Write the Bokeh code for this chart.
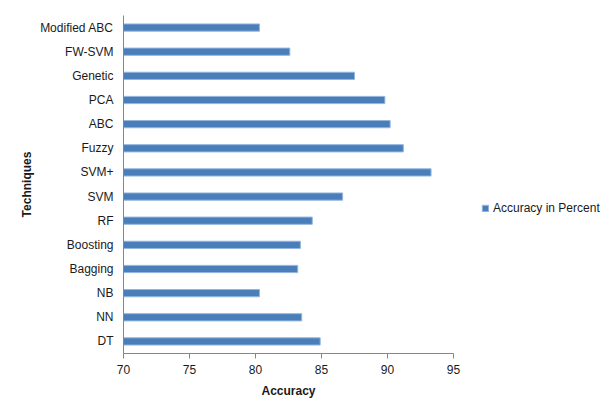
from bokeh.plotting import figure
from bokeh.models import Range1d, FactorRange, SingleIntervalTicker, Legend, LegendItem
from bokeh.embed import file_html
from bokeh.resources import INLINE

techniques = ["DT", "NN", "NB", "Bagging", "Boosting", "RF", "SVM", "SVM+",
              "Fuzzy", "ABC", "PCA", "Genetic", "FW-SVM", "Modified ABC"]
accuracy = [84.9, 83.5, 80.3, 83.2, 83.4, 84.3, 86.6, 93.3,
            91.2, 90.2, 89.8, 87.5, 82.6, 80.3]
x_min, x_max, x_step = 70, 95, 5
series_name = "Accuracy in Percent"
x_title = "Accuracy"
y_title = "Techniques"

FONT = "Liberation Sans"

p = figure(width=598, height=400, output_backend="svg", toolbar_location=None,
           x_range=Range1d(x_min, x_max), y_range=FactorRange(*techniques, range_padding=0),
           frame_width=330, frame_height=338,
           min_border_left=123, min_border_right=145, min_border_top=15, min_border_bottom=47)
p.outline_line_color = None
p.xgrid.grid_line_color = None
p.ygrid.grid_line_color = None
p.background_fill_color = "white"
p.border_fill_color = "white"

r = p.hbar(y=techniques, left=x_min, right=accuracy, height=0.3,
           fill_color="#4A7EBB", line_color="#94B6DE", line_width=1)

p.xaxis.ticker = SingleIntervalTicker(interval=x_step)
for ax in (p.xaxis[0], p.yaxis[0]):
    ax.axis_line_color = "#868686"
    ax.axis_line_width = 1
    ax.major_label_text_font = FONT
    ax.major_label_text_font_size = "12px"
    ax.major_label_text_color = "#1a1a1a"
    ax.axis_label_text_font = FONT
    ax.axis_label_text_font_size = "12px"
    ax.axis_label_text_font_style = "bold"
    ax.axis_label_text_color = "#1a1a1a"
    ax.minor_tick_line_color = None

p.xaxis.major_tick_line_color = "#868686"
p.xaxis.major_tick_out = 5
p.xaxis.major_tick_in = 0
p.xaxis.major_label_standoff = 6
p.xaxis.axis_label = x_title
p.xaxis.axis_label_standoff = 7

p.yaxis.major_tick_line_color = None
p.yaxis.major_tick_out = 0
p.yaxis.major_label_standoff = 10
p.yaxis.axis_label = y_title
p.yaxis.axis_label_standoff = 3

legend = Legend(items=[LegendItem(label=series_name, renderers=[r])],
                location=(28, 138), padding=0, margin=0, spacing=0,
                glyph_width=8, glyph_height=8, label_height=14, label_standoff=4,
                label_text_font=FONT, label_text_font_size="12px", label_text_color="#1a1a1a",
                border_line_color=None, background_fill_alpha=0)
p.add_layout(legend, "right")

open("out.html", "w").write(file_html(p, INLINE))
